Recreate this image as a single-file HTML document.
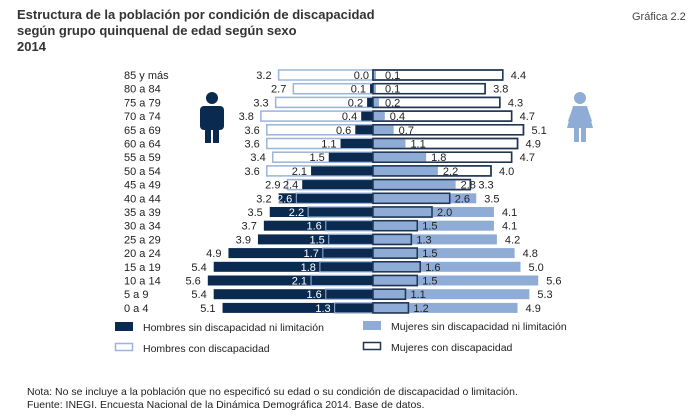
<!DOCTYPE html>
<html><head><meta charset="utf-8">
<style>
body{margin:0;width:700px;height:418px;background:#fff;font-family:"Liberation Sans",sans-serif;overflow:hidden;position:relative}
.t{position:absolute;color:#222}
</style></head>
<body>
<div class="t" style="left:17px;top:7px;font-weight:bold;font-size:13px;line-height:16px;color:#333">Estructura de la población por condición de discapacidad<br>según grupo quinquenal de edad según sexo<br>2014</div>
<div class="t" style="left:632px;top:11px;font-size:11px;color:#444">Gráfica 2.2</div>
<svg id="chart" width="700" height="418" style="position:absolute;left:0;top:0" font-family="Liberation Sans, sans-serif" font-size="11">
 <g fill="#0a2a4f">
  <circle cx="212" cy="98" r="6"/>
  <rect x="200" y="106" width="24" height="24" rx="4"/>
  <rect x="205" y="124" width="6" height="19"/><rect x="213" y="124" width="6" height="19"/>
 </g>
 <g fill="#8eacd6">
  <circle cx="580" cy="98" r="6"/>
  <path d="M573 106 h14 l6 22 h-26 z"/>
  <rect x="574" y="126" width="5" height="16"/><rect x="581" y="126" width="5" height="16"/>
  <path d="M573 107 l-5 14 l3 1 l4 -12 z M587 107 l5 14 l-3 1 l-4 -12 z"/>
 </g>
 <g id="bars"></g>
 <g font-size="10.5" fill="#222">
  <rect x="115" y="322" width="18" height="9" fill="#0a2a4f"/>
  <text x="143" y="331">Hombres sin discapacidad ni limitación</text>
  <rect x="115.5" y="343.5" width="17" height="7" fill="#fff" stroke="#9cb5db" stroke-width="1.5"/>
  <text x="143" y="352">Hombres con discapacidad</text>
  <rect x="363" y="321" width="18" height="9" fill="#8eacd6"/>
  <text x="391" y="330">Mujeres sin discapacidad ni limitación</text>
  <rect x="363.5" y="342.5" width="17" height="7" fill="#fff" stroke="#1f3552" stroke-width="1.5"/>
  <text x="391" y="351">Mujeres con discapacidad</text>
 </g>
</svg>
<div class="t" style="left:27px;top:386px;font-size:10.5px;line-height:13px">Nota: No se incluye a la población que no especificó su edad o su condición de discapacidad o limitación.<br>Fuente: INEGI. Encuesta Nacional de la Dinámica Demográfica 2014. Base de datos.</div>
<script>
const ages=["85 y más","80 a 84","75 a 79","70 a 74","65 a 69","60 a 64","55 a 59","50 a 54","45 a 49","40 a 44","35 a 39","30 a 34","25 a 29","20 a 24","15 a 19","10 a 14","5 a 9","0 a 4"];
const hombresSin=[0.0,0.1,0.2,0.4,0.6,1.1,1.5,2.1,2.4,3.2,3.5,3.7,3.9,4.9,5.4,5.6,5.4,5.1];
const hombresCon=[3.2,2.7,3.3,3.8,3.6,3.6,3.4,3.6,2.9,2.6,2.2,1.6,1.5,1.7,1.8,2.1,1.6,1.3];
const mujeresSin=[0.1,0.1,0.2,0.4,0.7,1.1,1.8,2.2,2.8,3.5,4.1,4.1,4.2,4.8,5.0,5.6,5.3,4.9];
const mujeresCon=[4.4,3.8,4.3,4.7,5.1,4.9,4.7,4.0,3.3,2.6,2.0,1.5,1.3,1.5,1.6,1.5,1.1,1.2];
const NS="http://www.w3.org/2000/svg";
const g=document.getElementById('bars');
const cx=373, k=29.5, y0=75, dy=13.7, bh=10;
const xs=v=>v*k;
const yc=i=>y0+i*dy;
function el(tag,attrs,name){const e=document.createElementNS(NS,tag);for(const a in attrs)e.setAttribute(a,attrs[a]);


g.appendChild(e);return e;}
function txt(x,y,s,anchor,fill,name){const t=el('text',{x:x,y:y,'text-anchor':anchor,fill:fill},name);t.textContent=s;return t;}
ages.forEach((a,i)=>{
 const y=yc(i), top=y-bh/2;
 txt(124,y+4,a,'start','#222','age-label');
 const hc=hombresCon[i], hs=hombresSin[i];
 el('rect',{x:cx-xs(hc),y:top,width:xs(hc),height:bh,fill:'#fff',stroke:'#9cb5db','stroke-width':1.5},'bar-hombres-con');
 el('rect',{x:cx-xs(hs),y:top,width:xs(hs),height:bh,fill:'#0a2a4f'},'bar-hombres-sin');
 el('rect',{x:cx-xs(hc),y:top,width:xs(hc),height:bh,fill:'none',stroke:'#9cb5db','stroke-width':1},'bar-hombres-con-outline');
 const hmax=Math.max(hc,hs), hmin=Math.min(hc,hs);
 txt(cx-xs(hmax)-7,y+4,hmax.toFixed(1),'end','#222','label-hombres-outer');
 txt(Math.min(cx-xs(hmin)-4,cx-3),y+4,hmin.toFixed(1),'end',hs>hc?'#fff':'#222','label-hombres-inner');
 const mc=mujeresCon[i], ms=mujeresSin[i];
 el('rect',{x:cx,y:top,width:xs(mc),height:bh,fill:'#fff',stroke:'#1f3552','stroke-width':1.5},'bar-mujeres-con');
 el('rect',{x:cx,y:top,width:xs(ms),height:bh,fill:'#8eacd6'},'bar-mujeres-sin');
 el('rect',{x:cx,y:top,width:xs(mc),height:bh,fill:'none',stroke:'#1f3552','stroke-width':1.5},'bar-mujeres-con-outline');
 const mmax=Math.max(mc,ms), mmin=Math.min(mc,ms);
 txt(cx+xs(mmax)+8,y+4,mmax.toFixed(1),'start','#222','label-mujeres-outer');
 txt(Math.max(cx+xs(mmin)+5,cx+12),y+4,mmin.toFixed(1),'start','#222','label-mujeres-inner');
});
</script>
</body></html>
